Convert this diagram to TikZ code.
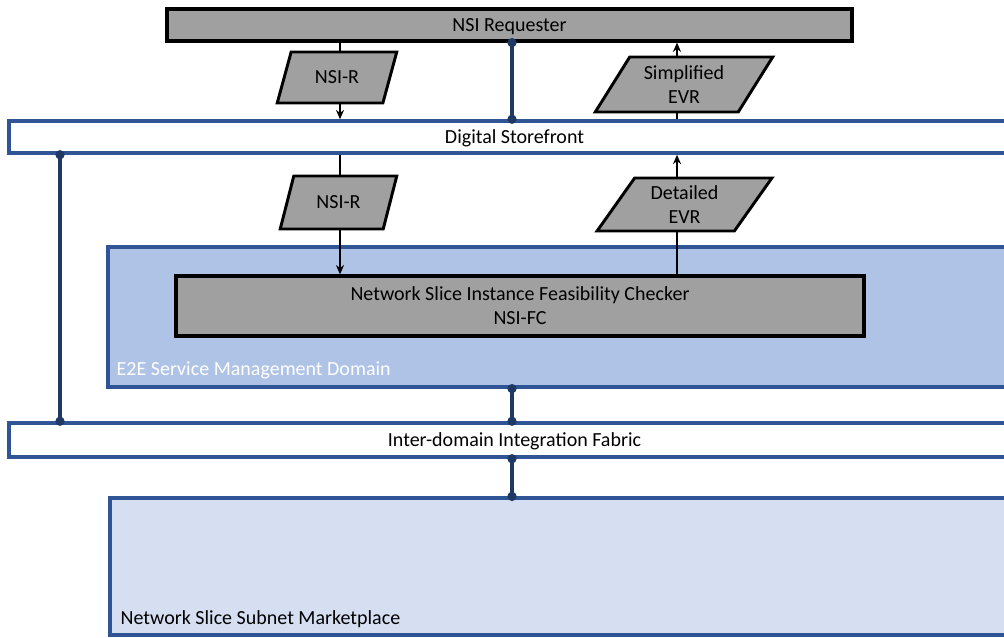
\documentclass[tikz,border=0pt]{standalone}
\usepackage{fontspec}
\setmainfont{Carlito}
\usetikzlibrary{shapes.geometric,arrows.meta}
\newdimen\pxu \pxu=0.75pt
\definecolor{bl}{HTML}{2F5597}
\definecolor{navy}{HTML}{203864}
\definecolor{gr}{HTML}{A0A0A0}
\definecolor{e2ec}{HTML}{AFC3E6}
\definecolor{mktc}{HTML}{D5DFF1}
\begin{document}
\begin{tikzpicture}[x=0.75pt,y=-0.75pt,
  font=\fontsize{15}{18}\selectfont,
  graybox/.style={draw=black, fill=gr, line width=2.4pt, rectangle, inner sep=0pt, align=center, text depth=0pt},
  bus/.style={draw=bl, fill=white, line width=2.6pt, rectangle, inner sep=0pt, text depth=0pt},
  dom/.style={draw=bl, line width=2.4pt, rectangle, inner sep=0pt},
  para/.style={trapezium, trapezium stretches=true, draw=black, fill=gr,
    line width=2.2pt, align=center, inner sep=0pt},
  parar/.style={para, trapezium left angle=63, trapezium right angle=117},
  parae/.style={para, trapezium left angle=56, trapezium right angle=124, text depth=0pt},
  arr/.style={-{Stealth[length=7pt,width=6pt]}, line width=1.5pt, black},
  link/.style={draw=navy, line width=2.3pt},
  dotc/.style={circle, fill=navy, inner sep=0pt, minimum size=7pt}]
\useasboundingbox (0,0) rectangle (1004,637);
\clip (0,0) rectangle (1004,637);

% x positions of connectors
\coordinate (ax) at (340,0);
\coordinate (ex) at (677,0);
\coordinate (mx) at (512,0);
\coordinate (lx) at (60,0);

% domains
\node[dom, fill=e2ec, minimum width=912\pxu, minimum height=140\pxu] (e2e) at (564,317) {};
\node[anchor=west, text=white] (e2elbl) at (112,370) {E2E Service Management Domain};
\node[dom, fill=mktc, minimum width=910\pxu, minimum height=137\pxu] (mkt) at (565,566.5) {};
\node[anchor=west] (mktlbl) at (116,619) {Network Slice Subnet Marketplace};

% boxes
\node[graybox, minimum width=685\pxu, minimum height=32\pxu] (req) at (509.5,25) {NSI Requester};
\node[bus, minimum width=1011\pxu, minimum height=32\pxu] (ds) at (514.5,137) {Digital Storefront};
\node[graybox, minimum width=688\pxu, minimum height=60\pxu] (fc) at (520,306) {Network Slice Instance Feasibility Checker\\NSI-FC};
\node[bus, minimum width=1011\pxu, minimum height=34\pxu] (idf) at (514.5,440) {Inter-domain Integration Fabric};

% arrows
\draw[arr] (req.south -| ax) -- (ds.north -| ax);
\draw[arr] (ds.north -| ex) -- (req.south -| ex);
\draw[arr] (ds.south -| ax) -- (fc.north -| ax);
\draw[arr] (fc.north -| ex) -- (ds.south -| ex);

% parallelograms
\node[parar, minimum width=120\pxu, minimum height=51\pxu] (p1) at (337,77.5) {NSI-R};
\node[parae, minimum width=178\pxu, minimum height=55\pxu] (p3) at (684,84.5) {Simplified\\EVR};
\node[parar, minimum width=117\pxu, minimum height=53\pxu] (p2) at (338.5,202.5) {NSI-R};
\node[parae, minimum width=175\pxu, minimum height=53\pxu] (p4) at (684.5,204.5) {Detailed\\EVR};

% blue links with dots
\draw[link] (req.south -| mx) -- (ds.north -| mx);
\node[dotc] (d1) at (req.south -| mx) {};
\node[dotc] (d2) at (ds.north -| mx) {};
\draw[link] (ds.south -| lx) -- (idf.north -| lx);
\node[dotc] (d3) at (ds.south -| lx) {};
\node[dotc] (d4) at (idf.north -| lx) {};
\draw[link] (e2e.south -| mx) -- (idf.north -| mx);
\node[dotc] (d5) at (e2e.south -| mx) {};
\node[dotc] (d6) at (idf.north -| mx) {};
\draw[link] (idf.south -| mx) -- (mkt.north -| mx);
\node[dotc] (d7) at (idf.south -| mx) {};
\node[dotc] (d8) at (mkt.north -| mx) {};
\end{tikzpicture}
\end{document}
